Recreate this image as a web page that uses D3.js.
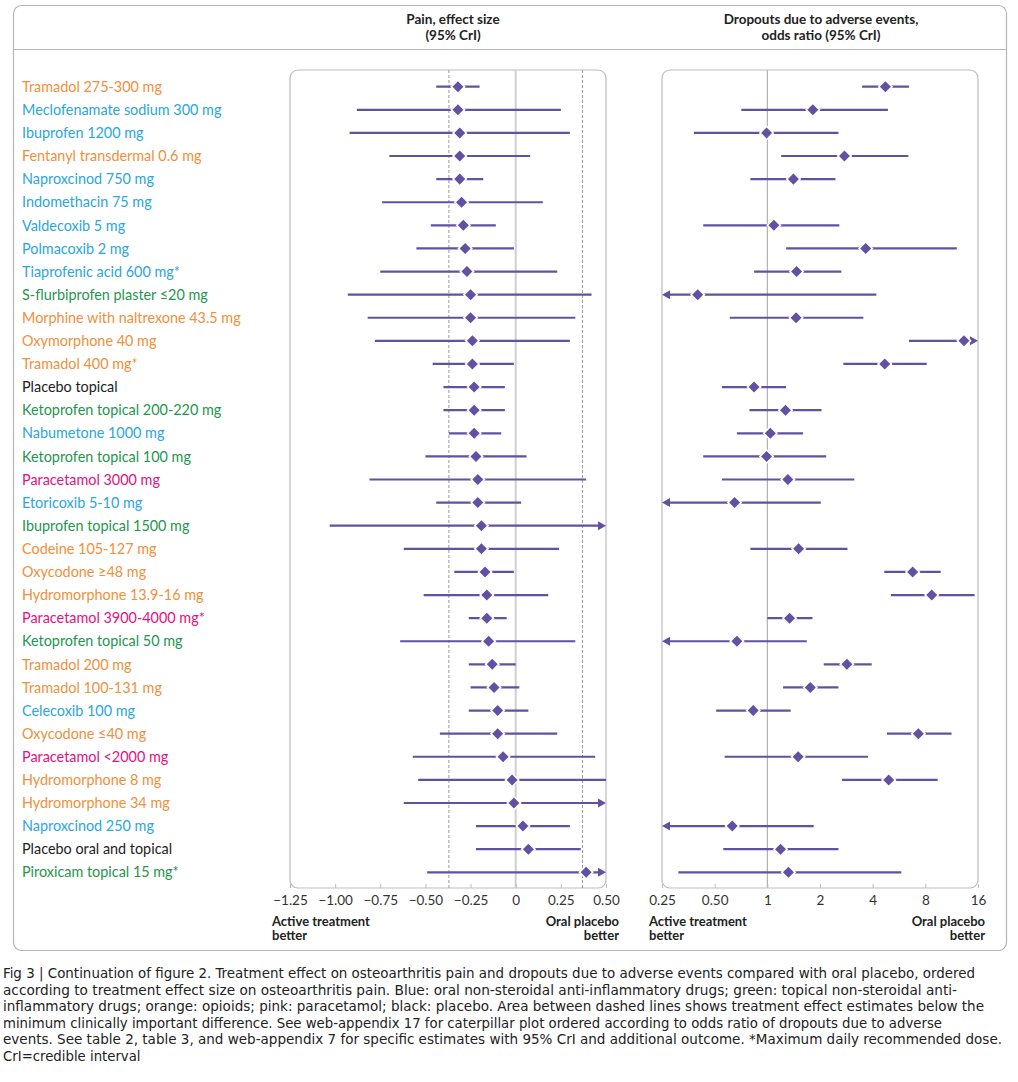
<!DOCTYPE html>
<html>
<head>
<meta charset="utf-8">
<script src="https://cdn.jsdelivr.net/npm/d3@7"></script>
<style>
  body { margin: 0; background: #fff; }
  text { font-family: Lato, "Open Sans", sans-serif; }
  .caption text { font-family: "Liberation Sans Narrow", "DejaVu Sans Condensed", "Roboto", sans-serif; }
</style>
</head>
<body>
<svg id="canvas" width="1018" height="1082"></svg>
<script>
/*
Treatments, top to bottom, and their drug class (colour of the label) */
var drugs = ['Tramadol 275-300 mg', 'Meclofenamate sodium 300 mg', 'Ibuprofen 1200 mg',
             'Fentanyl transdermal 0.6 mg', 'Naproxcinod 750 mg', 'Indomethacin 75 mg',
             'Valdecoxib 5 mg', 'Polmacoxib 2 mg', 'Tiaprofenic acid 600 mg*',
             'S-flurbiprofen plaster \u226420 mg', 'Morphine with naltrexone 43.5 mg', 'Oxymorphone 40 mg',
             'Tramadol 400 mg*', 'Placebo topical', 'Ketoprofen topical 200-220 mg',
             'Nabumetone 1000 mg', 'Ketoprofen topical 100 mg', 'Paracetamol 3000 mg',
             'Etoricoxib 5-10 mg', 'Ibuprofen topical 1500 mg', 'Codeine 105-127 mg',
             'Oxycodone \u226548 mg', 'Hydromorphone 13.9-16 mg', 'Paracetamol 3900-4000 mg*',
             'Ketoprofen topical 50 mg', 'Tramadol 200 mg', 'Tramadol 100-131 mg',
             'Celecoxib 100 mg', 'Oxycodone \u226440 mg', 'Paracetamol <2000 mg',
             'Hydromorphone 8 mg', 'Hydromorphone 34 mg', 'Naproxcinod 250 mg',
             'Placebo oral and topical', 'Piroxicam topical 15 mg*'];
var drug_class = ['opioid', 'oral', 'oral', 'opioid', 'oral', 'oral', 'oral', 'oral', 'oral',
                  'topical', 'opioid', 'opioid', 'opioid', 'placebo', 'topical', 'oral', 'topical',
                  'paracetamol', 'oral', 'topical', 'opioid', 'opioid', 'opioid', 'paracetamol',
                  'topical', 'opioid', 'opioid', 'oral', 'opioid', 'paracetamol', 'opioid', 'opioid',
                  'oral', 'placebo', 'topical'];

/*
Pain, effect size with 95% CrI (values past the axis end get an arrow) */
var pain_est = [-0.32, -0.32, -0.31, -0.31, -0.31, -0.30, -0.29, -0.28, -0.27, -0.25, -0.25, -0.24,
                -0.24, -0.23, -0.23, -0.23, -0.22, -0.21, -0.21, -0.19, -0.19, -0.17, -0.16, -0.16,
                -0.15, -0.13, -0.12, -0.10, -0.10, -0.07, -0.02, -0.01, 0.04, 0.07, 0.39];
var pain_lo = [-0.44, -0.88, -0.92, -0.70, -0.44, -0.74, -0.47, -0.55, -0.75, -0.93, -0.82, -0.78,
               -0.46, -0.40, -0.40, -0.37, -0.50, -0.81, -0.44, -1.03, -0.62, -0.34, -0.51, -0.26,
               -0.64, -0.26, -0.25, -0.26, -0.42, -0.57, -0.54, -0.62, -0.22, -0.22, -0.49];
var pain_hi = [-0.20, 0.25, 0.30, 0.08, -0.18, 0.15, -0.11, -0.01, 0.23, 0.42, 0.33, 0.30,
               -0.01, -0.06, -0.06, -0.08, 0.06, 0.39, 0.03, 0.60, 0.24, -0.01, 0.18, -0.05,
               0.33, 0.00, 0.02, 0.07, 0.23, 0.44, 0.50, 0.60, 0.30, 0.36, 0.60];

/*
Dropouts due to adverse events, odds ratio with 95% CrI (null = not reported) */
var or_est = [4.73, 1.82, 0.99, 2.76, 1.41, null, 1.09, 3.65, 1.47, 0.40, 1.46, 13.3,
              4.69, 0.84, 1.27, 1.04, 0.99, 1.31, 0.65, null, 1.51, 6.77, 8.70, 1.34,
              0.67, 2.85, 1.76, 0.83, 7.30, 1.50, 4.94, null, 0.63, 1.19, 1.32];
var or_lo = [3.48, 0.71, 0.38, 1.20, 0.80, null, 0.43, 1.28, 0.84, 0.20, 0.61, 6.45,
             2.72, 0.55, 0.79, 0.67, 0.43, 0.55, 0.20, null, 0.80, 4.66, 5.09, 1.00,
             0.20, 2.10, 1.23, 0.51, 4.83, 0.57, 2.67, null, 0.20, 0.56, 0.31];
var or_hi = [6.45, 4.89, 2.55, 6.40, 2.45, null, 2.58, 12.1, 2.65, 4.20, 3.54, 20.0,
             8.14, 1.28, 2.04, 1.60, 2.17, 3.14, 2.02, null, 2.87, 9.79, 15.3, 1.81,
             1.68, 3.95, 2.55, 1.36, 11.3, 3.76, 9.41, null, 1.84, 2.55, 5.83];

var pain_ticks = [-1.25, -1.00, -0.75, -0.50, -0.25, 0, 0.25, 0.50];
var or_ticks = [0.25, 0.5, 1, 2, 4, 8, 16];
var mcid = [-0.37, 0.37];

var caption_lines = [
  'Fig 3 | Continuation of figure 2. Treatment effect on osteoarthritis pain and dropouts due to adverse events compared with oral placebo, ordered',
  'according to treatment effect size on osteoarthritis pain. Blue: oral non-steroidal anti-inflammatory drugs; green: topical non-steroidal anti-',
  'inflammatory drugs; orange: opioids; pink: paracetamol; black: placebo. Area between dashed lines shows treatment effect estimates below the',
  'minimum clinically important difference. See web-appendix 17 for caterpillar plot ordered according to odds ratio of dropouts due to adverse',
  'events. See table 2, table 3, and web-appendix 7 for specific estimates with 95% CrI and additional outcome. *Maximum daily recommended dose.',
  'CrI=credible interval'];
var caption_widths = [975, 957, 984, 942, 1002, null];

var class_colors = { oral: '#2ba6de', topical: '#1f9650', opioid: '#f0903c',
                     paracetamol: '#e2127f', placebo: '#222' };
var mark_color = '#6251a3';

var svg = d3.select('#canvas');
var panel_top = 70, panel_bottom = 888;

var y = d3.scalePoint().domain(d3.range(drugs.length)).range([86.7, 872.3]);
var x_pain = d3.scaleLinear().domain([-1.25, 0.5]).range([290, 606]);
var x_or = d3.scaleLog().base(2).domain([0.25, 16]).range([662, 978]);

/*
Outer frame and header */
svg.append('rect').attr('x', 13.5).attr('y', 5.5).attr('width', 993).attr('height', 945)
   .attr('rx', 8).attr('fill', 'none').attr('stroke', '#b5b5b5').attr('stroke-width', 1.2);
svg.append('line').attr('x1', 13.5).attr('x2', 1006.5).attr('y1', 49.5).attr('y2', 49.5)
   .attr('stroke', '#b5b5b5').attr('stroke-width', 1.2);

function header(cx, lines) {
  svg.append('text').attr('x', cx).attr('y', 24).attr('text-anchor', 'middle')
     .attr('font-size', 13.5).attr('font-weight', 'bold').attr('fill', '#222')
     .selectAll('tspan').data(lines).join('tspan')
     .attr('x', cx).attr('dy', function(d, i) { return i ? 15.5 : 0; }).text(function(d) { return d; });
}
header(453, ['Pain, effect size', '(95% CrI)']);
header(821, ['Dropouts due to adverse events,', 'odds ratio (95% CrI)']);

/*
Treatment labels */
svg.append('g').selectAll('text').data(drugs).join('text')
   .attr('x', 22).attr('y', function(d, i) { return y(i); }).attr('dy', '0.36em')
   .attr('font-size', 14.4).attr('fill', function(d, i) { return class_colors[drug_class[i]]; })
   .text(function(d) { return d; });

/*
Draws one forest panel: frame, reference lines, intervals, diamonds, axis */
function draw_panel(x, est, lo, hi, ticks, fmt, ref_width, ref_color, note_left, note_right) {
  var g = svg.append('g');
  var x0 = x.range()[0], x1 = x.range()[1];
  var d0 = x.domain()[0], d1 = x.domain()[1];

  g.append('rect').attr('x', x0).attr('y', panel_top).attr('width', x1 - x0)
   .attr('height', panel_bottom - panel_top).attr('rx', 8)
   .attr('fill', 'none').attr('stroke', '#bdbdbd').attr('stroke-width', 1.2);

  var ref = (x === x_pain) ? 0 : 1;
  g.append('line').attr('x1', x(ref)).attr('x2', x(ref)).attr('y1', panel_top).attr('y2', panel_bottom)
   .attr('stroke', ref_color).attr('stroke-width', ref_width);

  if (x === x_pain) {
    g.selectAll('.mcid').data(mcid).join('line')
     .attr('x1', function(d) { return x(d); }).attr('x2', function(d) { return x(d); })
     .attr('y1', panel_top).attr('y2', panel_bottom)
     .attr('stroke', '#8c8c8c').attr('stroke-width', 0.9).attr('stroke-dasharray', '3,2');
  }

  var rows = d3.range(est.length).filter(function(i) { return est[i] !== null; });

  g.selectAll('.ci').data(rows).join('line')
   .attr('x1', function(i) { return x(Math.max(lo[i], d0)) + (lo[i] < d0 ? 5 : 0); })
   .attr('x2', function(i) { return x(Math.min(hi[i], d1)) - (hi[i] > d1 ? 5 : 0); })
   .attr('y1', function(i) { return y(i); }).attr('y2', function(i) { return y(i); })
   .attr('stroke', mark_color).attr('stroke-width', 2.2);

  // arrowheads where the interval runs past the axis
  var arrows = [];
  rows.forEach(function(i) {
    if (lo[i] < d0) arrows.push({ row: i, tip: x0, dir: -1 });
    if (hi[i] > d1) arrows.push({ row: i, tip: x1, dir: 1 });
  });
  g.selectAll('.arrow').data(arrows).join('path')
   .attr('d', function(a) {
     var t = a.tip, yy = y(a.row);
     return 'M' + t + ',' + yy + 'L' + (t - a.dir * 8) + ',' + (yy - 4.5) + 'L' + (t - a.dir * 8) + ',' + (yy + 4.5) + 'Z';
   })
   .attr('fill', mark_color);

  g.selectAll('.est').data(rows).join('path')
   .attr('d', d3.symbol(d3.symbolSquare, 88))
   .attr('transform', function(i) { return 'translate(' + x(est[i]) + ',' + y(i) + ') rotate(45)'; })
   .attr('fill', mark_color).attr('stroke', '#fff').attr('stroke-width', 1.6);

  var axis = g.append('g').attr('transform', 'translate(0,' + panel_bottom + ')')
    .call(d3.axisBottom(x).tickValues(ticks).tickFormat(fmt).tickSizeInner(-4).tickSizeOuter(0).tickPadding(7));
  axis.select('.domain').remove();
  axis.selectAll('.tick line').attr('stroke', '#bdbdbd');
  axis.selectAll('.tick text').attr('font-size', 13.5).attr('fill', '#333')
      .attr('font-family', 'Lato, "Open Sans", sans-serif');

  // direction notes under the axis, two lines each
  var notes = g.append('g').attr('font-size', 13).attr('font-weight', 'bold').attr('fill', '#222');
  notes.append('text').attr('x', note_left).attr('y', 925.5)
       .selectAll('tspan').data(['Active treatment', 'better']).join('tspan')
       .attr('x', note_left).attr('dy', function(d, i) { return i ? 14 : 0; }).text(function(d) { return d; });
  notes.append('text').attr('x', note_right).attr('y', 925.5).attr('text-anchor', 'end')
       .selectAll('tspan').data(['Oral placebo', 'better']).join('tspan')
       .attr('x', note_right).attr('dy', function(d, i) { return i ? 14 : 0; }).text(function(d) { return d; });
}

draw_panel(x_pain, pain_est, pain_lo, pain_hi, pain_ticks,
           function(d) { return d === 0 ? '0' : d3.format('.2f')(d); }, 2, '#cfcfcf', 272, 619);
draw_panel(x_or, or_est, or_lo, or_hi, or_ticks,
           function(d) { return d < 1 ? d3.format('.2f')(d) : String(d); }, 1.2, '#b0b0b0', 649, 985);

/*
Caption below the figure: one font size that fits the widest line, then each
full line spread to the width it has in the original */
var cap = svg.append('g').attr('class', 'caption');
var cap_text = cap.selectAll('text').data(caption_lines).join('text')
   .attr('x', 3).attr('y', function(d, i) { return 978 + i * 16.6; })
   .attr('font-size', 15).attr('fill', '#222')
   .text(function(d) { return d; });
var fit = 1;
cap_text.each(function(d, i) {
  if (caption_widths[i]) fit = Math.min(fit, (caption_widths[i] - 3) / this.getComputedTextLength());
});
cap_text.attr('font-size', 15 * fit)
   .each(function(d, i) {
     if (caption_widths[i]) d3.select(this).attr('textLength', caption_widths[i] - 3).attr('lengthAdjust', 'spacingAndGlyphs');
   });
</script>
</body>
</html>
